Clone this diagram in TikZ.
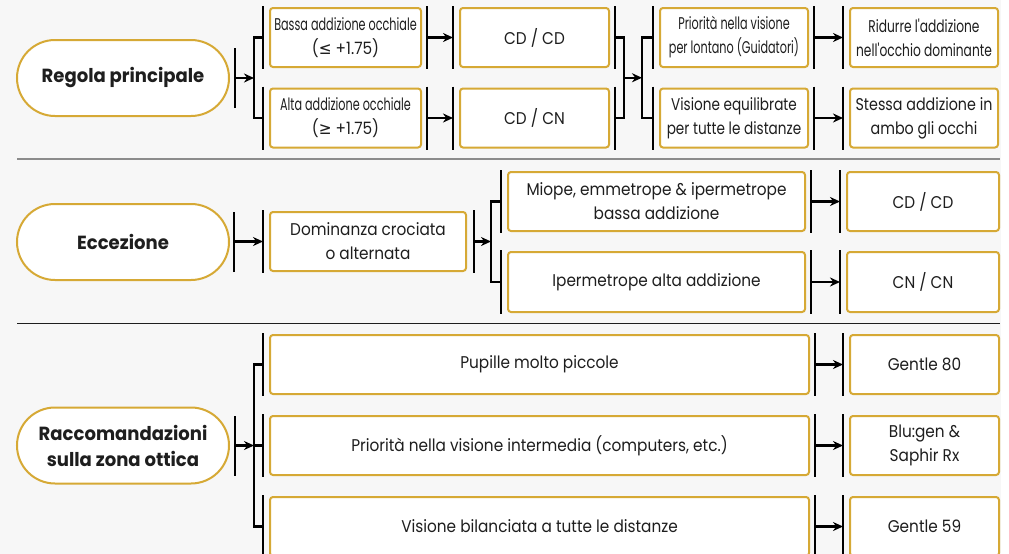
\documentclass[tikz,border=0pt]{standalone}
\usepackage{fontspec}
\setmainfont{Poppins}[FakeStretch=0.9]
\newfontfamily\condfont[FakeStretch=0.66]{Poppins}
\newfontfamily\condb[FakeStretch=0.8]{Poppins}
\newfontfamily\condc[FakeStretch=0.72]{Poppins}
\newfontfamily\condd[FakeStretch=0.84]{Poppins}
\newfontfamily\boldfont[FakeStretch=0.95]{Poppins}
\newfontfamily\symfont[FakeStretch=0.9]{DejaVu Sans}
\usetikzlibrary{arrows.meta,calc}
\definecolor{gold}{HTML}{D6A935}
\definecolor{bg}{HTML}{F7F7F7}
\definecolor{ink}{HTML}{1E1E1E}
\tikzset{
  box/.style={draw=gold, fill=white, line width=2pt, rounded corners=3pt, align=center, text=ink,
    font=\fontsize{17}{24}\selectfont, inner sep=0pt},
  pill/.style={draw=gold, fill=white, line width=2pt, rounded corners=38pt, align=center, text=ink,
    font=\fontsize{19}{26}\selectfont\boldfont\bfseries, minimum width=212pt, minimum height=76pt, inner sep=0pt},
  cond/.style={font=\fontsize{17}{24}\selectfont\condfont},
  ln/.style={line width=2.2pt, draw=black},
  arr/.style={line width=2.2pt, -{Stealth[length=10pt,width=9pt]}},
}
\newcommand{\plusval}[1]{{\fontsize{17}{24}\selectfont\normalfont (\symfont#1\normalfont\ +1.75)}}
\begin{document}
\begin{tikzpicture}[x=1pt,y=-1pt]
\fill[white] (0,0) rectangle (1009,554);
\fill[bg] (0,0) rectangle (1001,554);
\useasboundingbox (0,0) rectangle (1009,554);
% separators
\draw[line width=2pt, draw=gray!90] (17,159) -- (1000,159);
\draw[line width=1pt, draw=ink] (17,323) -- (1000,323);

% ===== Section 1 =====
\node[pill] (p1) at (123,78) {Regola principale};
\node[box, cond, minimum width=151pt, minimum height=59pt] (a1) at (345.5,37.5) {Bassa addizione occhiale\\\plusval{≤}};
\node[box, cond, minimum width=151pt, minimum height=59pt] (a2) at (345.5,118) {Alta addizione occhiale\\\plusval{≥}};
\node[box, minimum width=149pt, minimum height=59pt] (c1) at (534.5,37.5) {CD / CD};
\node[box, minimum width=149pt, minimum height=59pt] (c2) at (534.5,118) {CD / CN};
\node[box, cond, minimum width=148pt, minimum height=59pt] (d1) at (734,37.5) {Priorità nella visione\\per lontano (Guidatori)};
\node[box, minimum width=148pt, minimum height=59pt, font=\fontsize{17}{24}\selectfont\condb] (d2) at (734,118) {Visione equilibrate\\per tutte le distanze};
\node[box, minimum width=148pt, minimum height=59pt, font=\fontsize{17}{24}\selectfont\condc] (e1) at (924,37.5) {Ridurre l'addizione\\nell'occhio dominante};
\node[box, minimum width=148pt, minimum height=59pt, font=\fontsize{17}{24}\selectfont\condd] (e2) at (924,118) {Stessa addizione in\\ambo gli occhi};

% pill -> split
\coordinate (s1) at ([xshift=24pt]p1.east);
\draw[ln] ([xshift=5pt,yshift=-30pt]p1.east) -- ([xshift=5pt,yshift=30pt]p1.east);
\draw[arr] ([xshift=5pt]p1.east) -- (s1);
\draw[ln] ([xshift=-6pt]a1.west) -- (a1.west -| s1) -- (a2.west -| s1) -- ([xshift=-6pt]a2.west);
\foreach \n in {a1,a2,c1,c2,d1,d2,e1,e2}{
  \draw[ln] ([xshift=-6pt,yshift=1pt]\n.north west) -- ([xshift=-6pt,yshift=-1pt]\n.south west);
}
\foreach \n in {a1,a2,c1,c2,d1,d2}{
  \draw[ln] ([xshift=5pt,yshift=1pt]\n.north east) -- ([xshift=5pt,yshift=-1pt]\n.south east);
}
\draw[arr] ([xshift=5pt]a1.east) -- ([xshift=-6pt]c1.west);
\draw[arr] ([xshift=5pt]a2.east) -- ([xshift=-6pt]c2.west);
% merge c -> split d
\coordinate (m1) at ([xshift=14pt]c1.east);
\coordinate (m2) at ([xshift=-17pt]d1.west);
\draw[ln] ([xshift=5pt]c1.east) -- (m1) -- (m1 |- c2.east) -- ([xshift=5pt]c2.east);
\draw[arr] ($(m1)!0.5!(m1 |- c2.east)$) -- ($(m2)!0.5!(m2 |- d2.west)$);
\draw[ln] ([xshift=-6pt]d1.west) -- (m2) -- (m2 |- d2.west) -- ([xshift=-6pt]d2.west);
\draw[arr] ([xshift=5pt]d1.east) -- ([xshift=-6pt]e1.west);
\draw[arr] ([xshift=5pt]d2.east) -- ([xshift=-6pt]e2.west);

% ===== Section 2 =====
\node[pill] (p2) at (123,242) {Eccezione};
\node[box, minimum width=196pt, minimum height=59pt] (f) at (368,241.5) {Dominanza crociata\\o alternata};
\node[box, minimum width=297pt, minimum height=59pt] (g1) at (656.5,201.5) {Miope, emmetrope \& ipermetrope\\bassa addizione};
\node[box, minimum width=297pt, minimum height=60pt] (g2) at (656.5,282) {Ipermetrope alta addizione};
\node[box, minimum width=152pt, minimum height=59pt] (h1) at (923,201.5) {CD / CD};
\node[box, minimum width=152pt, minimum height=60pt] (h2) at (923,282) {CN / CN};
\draw[ln] ([xshift=4pt,yshift=-30pt]p2.east) -- ([xshift=4pt,yshift=30pt]p2.east);
\draw[ln] ([xshift=-6pt,yshift=1pt]f.north west) -- ([xshift=-6pt,yshift=-1pt]f.south west);
\draw[arr] ([xshift=4pt]p2.east |- f.west) -- ([xshift=-6pt]f.west);
\draw[ln] ([xshift=7pt,yshift=1pt]f.north east) -- ([xshift=7pt,yshift=-1pt]f.south east);
\coordinate (s2) at ([xshift=-16pt]g1.west);
\draw[arr] ([xshift=7pt]f.east) -- (s2 |- f.east);
\draw[ln] ([xshift=-6pt]g1.west) -- (s2) -- (s2 |- g2.west) -- ([xshift=-6pt]g2.west);
\foreach \n in {g1,g2,h1,h2}{
  \draw[ln] ([xshift=-6pt,yshift=1pt]\n.north west) -- ([xshift=-6pt,yshift=-1pt]\n.south west);
}
\foreach \n in {g1,g2}{
  \draw[ln] ([xshift=5pt,yshift=1pt]\n.north east) -- ([xshift=5pt,yshift=-1pt]\n.south east);
}
\draw[arr] ([xshift=5pt]g1.east) -- ([xshift=-6pt]h1.west);
\draw[arr] ([xshift=5pt]g2.east) -- ([xshift=-6pt]h2.west);

% ===== Section 3 =====
\node[pill] (p3) at (123,445.5) {Raccomandazioni\\sulla zona ottica};
\node[box, minimum width=539pt, minimum height=59pt] (k1) at (539.5,364.5) {Pupille molto piccole};
\node[box, minimum width=539pt, minimum height=59pt] (k2) at (539.5,445.5) {Priorità nella visione intermedia (computers, etc.)};
\node[box, minimum width=539pt, minimum height=59pt] (k3) at (539.5,526.5) {Visione bilanciata a tutte le distanze};
\node[box, minimum width=149pt, minimum height=59pt] (n1) at (924.5,364.5) {Gentle 80};
\node[box, minimum width=149pt, minimum height=59pt] (n2) at (924.5,445.5) {Blu:gen \&\\Saphir Rx};
\node[box, minimum width=149pt, minimum height=59pt] (n3) at (924.5,526.5) {Gentle 59};
\coordinate (s3) at ([xshift=24pt]p3.east);
\draw[ln] ([xshift=5pt,yshift=-30pt]p3.east) -- ([xshift=5pt,yshift=30pt]p3.east);
\draw[arr] ([xshift=5pt]p3.east) -- (s3);
\draw[ln] ([xshift=-6pt]k1.west) -- (k1.west -| s3) -- (k3.west -| s3) -- ([xshift=-6pt]k3.west);
\draw[ln] (s3) -- ([xshift=-6pt]k2.west);
\foreach \n in {k1,k2,k3,n1,n2,n3}{
  \draw[ln] ([xshift=-6pt,yshift=1pt]\n.north west) -- ([xshift=-6pt,yshift=-1pt]\n.south west);
}
\foreach \n in {k1,k2,k3}{
  \draw[ln] ([xshift=5pt,yshift=1pt]\n.north east) -- ([xshift=5pt,yshift=-1pt]\n.south east);
}
\draw[arr] ([xshift=5pt]k1.east) -- ([xshift=-6pt]n1.west);
\draw[arr] ([xshift=5pt]k2.east) -- ([xshift=-6pt]n2.west);
\draw[arr] ([xshift=5pt]k3.east) -- ([xshift=-6pt]n3.west);
\end{tikzpicture}
\end{document}
